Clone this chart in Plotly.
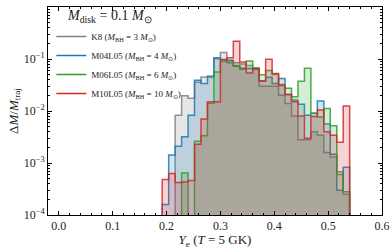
import numpy as np
import plotly.graph_objects as go

# bin edges in Y_e (bin width 0.012)
bin_edges = [0.192, 0.204, 0.216, 0.228, 0.240, 0.252, 0.264, 0.276, 0.288, 0.300,
             0.312, 0.324, 0.336, 0.348, 0.360, 0.372, 0.384, 0.396, 0.408, 0.420,
             0.432, 0.444, 0.456, 0.468, 0.480, 0.492, 0.504, 0.516, 0.528, 0.540]

k8 = [0, 0, 8.3e-3, 0.0197, 0.0176, 0.0357, 0.0452, 0.0472, 0.101, 0.133,
      0.092, 0.085, 0.080, 0.075, 0.068, 0.030, 0.030, 0.030, 0.020, 0.014,
      0.008, 0.0028, 0.0028, 0.0040, 0.0034, 0.0016, 0.0013, 0.00068, 0.00025]
m04l05 = [1.6e-4, 1.42e-3, 2.11e-3, 3.18e-3, 8.3e-3, 0.039, 0.0337, 0.0452, 0.106, 0.0973,
          0.0944, 0.0724, 0.0662, 0.0654, 0.0654, 0.0373, 0.0446, 0.0337, 0.0421, 0.0207,
          0.0162, 0.0135, 0.0083, 0.0091, 0.0156, 0.0056, 0.00148, 0.0003, 0.00083]
m06l05 = [0, 0, 0, 6.4e-4, 0, 2.63e-3, 3.33e-3, 0.0141, 0.0562, 0.09,
          0.085, 0.075, 0.0635, 0.0917, 0.0635, 0.05, 0.06, 0.0503, 0.0323, 0.0274,
          0.0187, 0.0373, 0.0662, 0.0091, 0.0077, 0.0112, 0.0052, 0.0006, 0.00028]
m10l05 = [4.8e-4, 6.3e-4, 4.2e-4, 4.3e-4, 4.6e-4, 2.3e-3, 7.0e-3, 0.015, 0.015, 0.097,
          0.106, 0.219, 0.0875, 0.054, 0.065, 0.038, 0.099, 0.0525, 0.031, 0.0207,
          0.015, 0.008, 0.003, 0.0078, 0.0104, 0.004, 0.0034, 0.0025, 0.0125]

names = ["K8 (<i>M</i><sub>BH</sub> = 3 <i>M</i><sub>⊙</sub>)",
         "M04L05 (<i>M</i><sub>BH</sub> = 4 <i>M</i><sub>⊙</sub>)",
         "M06L05 (<i>M</i><sub>BH</sub> = 6 <i>M</i><sub>⊙</sub>)",
         "M10L05 (<i>M</i><sub>BH</sub> = 10 <i>M</i><sub>⊙</sub>)"]
series = [k8, m04l05, m06l05, m10l05]
colors = [(128, 128, 128), (31, 119, 180), (44, 160, 44), (214, 39, 40)]

xticks = [0.0, 0.1, 0.2, 0.3, 0.4, 0.5, 0.6]
xticklabels = ["0.0", "0.1", "0.2", "0.3", "0.4", "0.5", "0.6"]
yticks = [1e-4, 1e-3, 1e-2, 1e-1, 1]
yticklabels = ["10<sup>−4</sup>", "10<sup>−3</sup>", "10<sup>−2</sup>", "10<sup>−1</sup>", "10<sup>0</sup>"]
legend_title = "<i>M</i><sub>disk</sub> = 0.1 <i>M</i><sub>⊙</sub>"

FONT = "Liberation Serif"
BASE = 1e-7

fig = go.Figure()


def step_xy(edges, vals):
    e = np.asarray(edges, float)
    v = np.asarray(vals, float)
    v = np.where(v > 0, v, BASE)
    xs = np.concatenate([[e[0]], np.repeat(e, 2)[1:-1], [e[-1]]])
    ys = np.concatenate([[BASE], np.repeat(v, 2), [BASE]])
    return xs, ys


for vals, c, nm in zip(series, colors, names):
    xs, ys = step_xy(bin_edges, vals)
    fig.add_trace(go.Scatter(
        x=xs, y=ys, mode="lines", fill="toself",
        fillcolor=f"rgba({c[0]},{c[1]},{c[2]},0.2)",
        line=dict(color=f"rgba({c[0]},{c[1]},{c[2]},0.85)", width=1.5),
        showlegend=False, hoverinfo="skip"))

for c, nm in zip(colors, names):
    fig.add_trace(go.Scatter(
        x=[None], y=[None], mode="lines",
        line=dict(color=f"rgb({c[0]},{c[1]},{c[2]})", width=1.5),
        name=nm, showlegend=True))

axis_common = dict(
    showline=True, linecolor="black", linewidth=1, mirror="ticks",
    ticks="inside", ticklen=4, tickcolor="black", tickwidth=1,
    showgrid=False, zeroline=False, automargin=False,
    tickfont=dict(family=FONT, size=12, color="#222"),
)

fig.update_xaxes(
    range=[-0.02, 0.6], tickvals=xticks, ticktext=xticklabels,
    minor=dict(ticks="inside", ticklen=2, dtick=0.02, tick0=0, tickcolor="black"),
    title=dict(text="<i>Y</i><sub>e</sub> (<i>T</i> = 5 GK)",
               font=dict(family=FONT, size=13, color="#222"), standoff=2),
    **axis_common)
fig.update_yaxes(
    type="log", range=[-4, 0], tickvals=yticks, ticktext=yticklabels,
    minor=dict(ticks="inside", ticklen=2, dtick="D1", tickcolor="black"),
    title=dict(text="Δ<i>M</i>/<i>M</i><sub>traj</sub>",
               font=dict(family=FONT, size=13, color="#222"), standoff=2),
    **axis_common)

fig.add_annotation(
    text=legend_title, xref="paper", yref="paper", x=0.051, y=0.952,
    xanchor="left", yanchor="middle", showarrow=False,
    font=dict(family=FONT, size=14, color="#222"))

fig.update_layout(
    width=390, height=249,
    margin=dict(l=48, r=8, t=7, b=34),
    plot_bgcolor="white", paper_bgcolor="white",
    legend=dict(
        x=0.01, y=0.928, xanchor="left", yanchor="top",
        bgcolor="rgba(0,0,0,0)",
        font=dict(family=FONT, size=9, color="#222"),
        tracegroupgap=0, itemwidth=30,
    ),
)

fig.write_html("out.html", config={"displayModeBar": False},
               post_script="document.body.style.margin='0';")
